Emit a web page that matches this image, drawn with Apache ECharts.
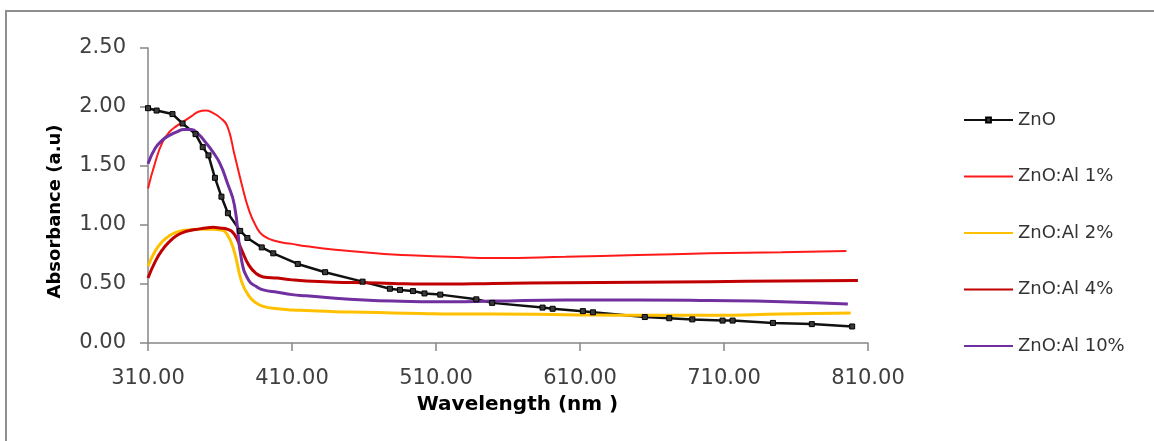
<!DOCTYPE html>
<html>
<head>
<meta charset="utf-8">
<script src="https://cdn.jsdelivr.net/npm/echarts@6/dist/echarts.min.js"></script>
<style>
  html, body { margin: 0; padding: 0; background: #fff; overflow: hidden; }
  #wrap { position: relative; width: 1154px; height: 441px; }
  #frame { position: absolute; left: 5px; top: 10px; width: 1200px; height: 600px;
           border-top: 2px solid #8f8f8f; border-left: 2px solid #8f8f8f; pointer-events: none; }
  #chart { position: absolute; left: 0; top: 0; width: 1154px; height: 441px; }
</style>
</head>
<body>
<div id="wrap">
  <div id="chart"></div>
  <div id="frame"></div>
</div>
<script>
// ---- data ----
const seriesNames = ['ZnO', 'ZnO:Al 1%', 'ZnO:Al 2%', 'ZnO:Al 4%', 'ZnO:Al 10%'];

const znoWavelength = [310, 316, 327, 334, 343, 348, 352, 356.5, 361, 365.5, 374, 379, 389, 397, 414, 433, 459, 478, 485, 494, 502, 513, 538, 549, 584, 591, 612, 619, 655, 672, 688, 709, 716, 744, 771, 799];
const znoAbsorbance = [1.99, 1.97, 1.94, 1.86, 1.77, 1.66, 1.59, 1.40, 1.24, 1.10, 0.95, 0.89, 0.81, 0.76, 0.67, 0.60, 0.52, 0.46, 0.45, 0.44, 0.42, 0.41, 0.37, 0.34, 0.30, 0.29, 0.27, 0.26, 0.22, 0.21, 0.20, 0.19, 0.19, 0.17, 0.16, 0.14];

const al1Wavelength = [310, 315, 320, 325, 330, 335, 340, 345, 350, 355, 360, 365, 370, 375, 380, 385, 390, 400, 410, 420, 440, 460, 480, 500, 520, 550, 600, 650, 700, 750, 795];
const al1Absorbance = [1.31, 1.53, 1.70, 1.79, 1.84, 1.88, 1.92, 1.96, 1.97, 1.95, 1.91, 1.84, 1.60, 1.35, 1.13, 0.99, 0.91, 0.86, 0.84, 0.82, 0.79, 0.77, 0.75, 0.74, 0.73, 0.72, 0.73, 0.745, 0.76, 0.77, 0.78];

const al2Wavelength = [310, 315, 320, 325, 330, 335, 340, 345, 350, 355, 360, 365, 370, 375, 380, 385, 390, 400, 410, 420, 440, 460, 480, 500, 520, 550, 600, 650, 700, 750, 798];
const al2Absorbance = [0.65, 0.78, 0.86, 0.91, 0.94, 0.955, 0.96, 0.965, 0.965, 0.965, 0.96, 0.92, 0.77, 0.52, 0.40, 0.34, 0.31, 0.29, 0.28, 0.275, 0.265, 0.26, 0.255, 0.25, 0.245, 0.245, 0.24, 0.235, 0.235, 0.245, 0.255];

const al4Wavelength = [310, 315, 320, 325, 330, 335, 340, 345, 350, 355, 360, 365, 370, 375, 380, 385, 390, 400, 410, 420, 440, 460, 480, 500, 520, 550, 600, 650, 700, 750, 803];
const al4Absorbance = [0.55, 0.69, 0.79, 0.86, 0.91, 0.94, 0.955, 0.965, 0.975, 0.98, 0.975, 0.965, 0.92, 0.79, 0.66, 0.59, 0.56, 0.55, 0.535, 0.525, 0.515, 0.51, 0.505, 0.50, 0.50, 0.505, 0.51, 0.515, 0.52, 0.525, 0.53];

const al10Wavelength = [310, 315, 320, 325, 330, 335, 340, 345, 350, 355, 360, 365, 370, 375, 380, 385, 390, 400, 410, 420, 440, 460, 480, 500, 520, 550, 600, 650, 700, 750, 796];
const al10Absorbance = [1.52, 1.65, 1.72, 1.76, 1.79, 1.81, 1.81, 1.77, 1.70, 1.62, 1.52, 1.36, 1.17, 0.70, 0.53, 0.48, 0.45, 0.43, 0.41, 0.40, 0.38, 0.365, 0.355, 0.35, 0.35, 0.355, 0.365, 0.365, 0.36, 0.35, 0.33];

const xTicks = { min: 310, max: 810, step: 100 };
const yTicks = { min: 0, max: 2.5, step: 0.5 };

// ---- build ----
const zip = (xs, ys) => xs.map((x, i) => [x, ys[i]]);
const FONT = 'DejaVu Sans';

const chart = echarts.init(document.getElementById('chart'), null, { renderer: 'canvas' });

function curve(name, xs, ys, color, width) {
  return {
    name, type: 'line', data: zip(xs, ys),
    symbol: 'none', smooth: 0.5,
    lineStyle: { color, width }, itemStyle: { color },
    animation: false
  };
}

const hiddenMarker = { itemStyle: { opacity: 0 } };

chart.setOption({
  animation: false,
  backgroundColor: '#fff',
  grid: { left: 148, right: 286, top: 48, bottom: 98 },
  legend: {
    orient: 'vertical', left: 963, top: 110,
    itemWidth: 49, itemHeight: 6, itemGap: 36.5, padding: 0,
    data: [
      { name: seriesNames[0] },
      Object.assign({ name: seriesNames[1] }, hiddenMarker),
      Object.assign({ name: seriesNames[2] }, hiddenMarker),
      Object.assign({ name: seriesNames[3] }, hiddenMarker),
      Object.assign({ name: seriesNames[4] }, hiddenMarker)
    ],
    textStyle: { fontFamily: FONT, fontSize: 18, color: '#333', lineHeight: 20 }
  },
  xAxis: {
    type: 'value', min: xTicks.min, max: xTicks.max, interval: xTicks.step,
    name: 'Wavelength (nm )', nameLocation: 'middle', nameGap: 52,
    nameTextStyle: { fontFamily: FONT, fontSize: 20, fontWeight: 'bold', color: '#000', padding: [0, 0, 0, 19] },
    axisLine: { lineStyle: { color: '#868686', width: 1.5 } },
    axisTick: { show: true, length: 8, inside: false, lineStyle: { color: '#868686', width: 1.5 } },
    axisLabel: { fontFamily: FONT, fontSize: 21, color: '#404040', margin: 25, formatter: v => v.toFixed(2) },
    splitLine: { show: false }
  },
  yAxis: {
    type: 'value', min: yTicks.min, max: yTicks.max, interval: yTicks.step,
    name: 'Absorbance (a.u)', nameLocation: 'middle', nameGap: 84,
    nameTextStyle: { fontFamily: FONT, fontSize: 18, fontWeight: 'bold', color: '#000', padding: [0, 32, 0, 0] },
    axisLine: { show: true, lineStyle: { color: '#868686', width: 1.5 } },
    axisTick: { show: true, length: 8, inside: false, lineStyle: { color: '#868686', width: 1.5 } },
    axisLabel: { fontFamily: FONT, fontSize: 21, color: '#404040', margin: 22, padding: [6, 0, 0, 0], formatter: v => v.toFixed(2) },
    splitLine: { show: false }
  },
  series: [
    {
      name: seriesNames[0], type: 'line', data: zip(znoWavelength, znoAbsorbance),
      symbol: 'rect', symbolSize: 5, showSymbol: true,
      lineStyle: { color: '#111', width: 2.5 },
      itemStyle: { color: '#3a3a3a', borderColor: '#000', borderWidth: 1 },
      animation: false
    },
    curve(seriesNames[1], al1Wavelength, al1Absorbance, '#ff1a1a', 2),
    curve(seriesNames[2], al2Wavelength, al2Absorbance, '#ffc000', 3),
    curve(seriesNames[3], al4Wavelength, al4Absorbance, '#c00000', 3),
    curve(seriesNames[4], al10Wavelength, al10Absorbance, '#7030a0', 3)
  ]
});
</script>
</body>
</html>
